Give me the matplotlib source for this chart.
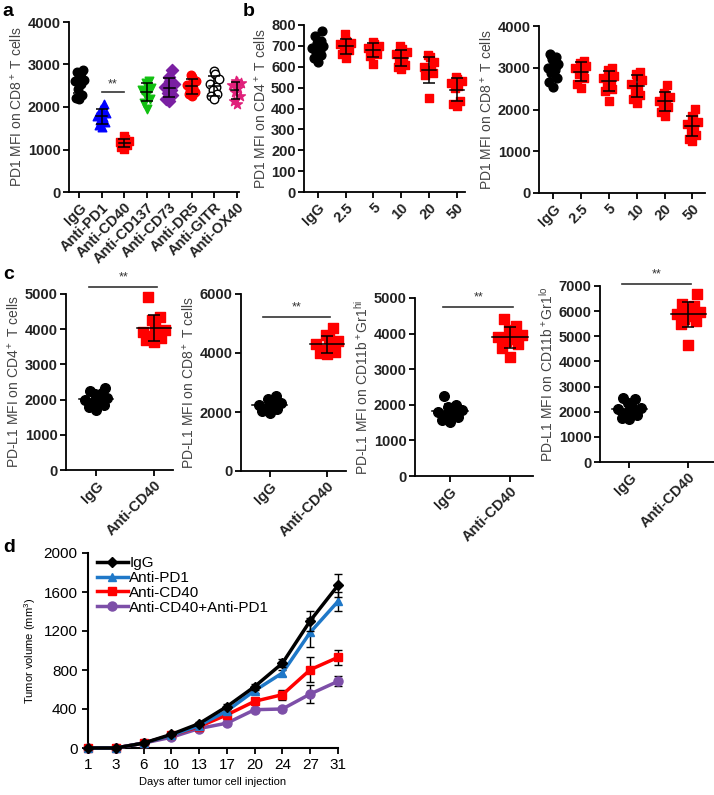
import numpy as np
import matplotlib
matplotlib.use("Agg")
import matplotlib.pyplot as plt
from matplotlib.lines import Line2D

plt.rcParams['font.family'] = ['Liberation Sans', 'DejaVu Sans']
plt.rcParams['mathtext.fontset'] = 'custom'
plt.rcParams['mathtext.rm'] = 'Liberation Sans'
plt.rcParams['mathtext.it'] = 'Liberation Sans'

W, H = 714, 795

# ---- panel a ----
a_groups = ['IgG', 'Anti-PD1', 'Anti-CD40', 'Anti-CD137', 'Anti-CD73', 'Anti-DR5', 'Anti-GITR', 'Anti-OX40']
a_vals = [
    [2860, 2830, 2800, 2750, 2680, 2640, 2600, 2550, 2420, 2280, 2220, 2180],
    [2080, 1960, 1900, 1850, 1800, 1760, 1700, 1650, 1580, 1530],
    [1320, 1250, 1200, 1180, 1150, 1120, 1100, 1060, 1020],
    [2620, 2560, 2500, 2450, 2400, 2350, 2300, 2200, 2100, 1950],
    [2870, 2700, 2620, 2550, 2480, 2400, 2330, 2280, 2200, 2150],
    [2760, 2700, 2620, 2520, 2450, 2400, 2350, 2300, 2270],
    [2850, 2780, 2650, 2550, 2480, 2400, 2300, 2250, 2200],
    [2620, 2580, 2560, 2520, 2450, 2350, 2250, 2150, 2080],
]

# ---- panel b ----
b_groups = ['IgG', '2.5', '5', '10', '20', '50']
b1_vals = [
    [770, 745, 725, 715, 705, 700, 690, 680, 670, 655, 640, 625],
    [758, 725, 715, 710, 700, 690, 680, 660, 640],
    [720, 710, 700, 690, 685, 680, 660, 650, 612],
    [700, 685, 670, 660, 640, 625, 610, 600, 590],
    [655, 645, 625, 600, 585, 575, 570, 560, 450],
    [550, 540, 530, 520, 510, 500, 435, 420, 410],
]
b2_vals = [
    [3320, 3250, 3200, 3130, 3080, 3000, 2950, 2870, 2750, 2650, 2550],
    [3150, 3120, 3100, 3050, 3000, 2920, 2850, 2750, 2600, 2520],
    [3000, 2950, 2880, 2800, 2750, 2700, 2600, 2500, 2450, 2200],
    [2900, 2850, 2800, 2700, 2600, 2550, 2450, 2350, 2250, 2150],
    [2580, 2400, 2350, 2300, 2200, 2150, 2100, 2050, 1950, 1850],
    [2020, 1850, 1800, 1700, 1650, 1600, 1500, 1400, 1300, 1250],
]

# ---- panel c ----
c_groups = ['IgG', 'Anti-CD40']
c1_vals = [[2330, 2250, 2200, 2150, 2100, 2050, 2000, 1950, 1900, 1850, 1780, 1700],
           [4920, 4350, 4250, 4100, 3980, 3920, 3870, 3820, 3760, 3700, 3650]]
c2_vals = [[2550, 2450, 2350, 2300, 2250, 2200, 2150, 2100, 2050, 1980],
           [4850, 4600, 4500, 4400, 4300, 4200, 4100, 4050, 4000, 3950]]
c3_vals = [[2250, 2000, 1950, 1900, 1850, 1800, 1750, 1700, 1650, 1580, 1520],
           [4400, 4200, 4100, 4050, 3950, 3900, 3850, 3800, 3700, 3600, 3350]]
c4_vals = [[2550, 2500, 2350, 2250, 2150, 2100, 2050, 1950, 1850, 1750, 1700],
           [6700, 6300, 6200, 6100, 6000, 5950, 5900, 5800, 5700, 5600, 5500, 4650]]
c_sig = [5200, 5220, 4750, 7080]

# ---- panel d ----
days = ['1', '3', '6', '10', '13', '17', '20', '24', '27', '31']
d_names = ['IgG', 'Anti-PD1', 'Anti-CD40', 'Anti-CD40+Anti-PD1']
d_means = [
    [0, 0, 50, 140, 250, 425, 630, 870, 1305, 1668],
    [0, 0, 50, 130, 230, 380, 588, 770, 1186, 1504],
    [0, 0, 50, 130, 220, 340, 479, 547, 803, 930],
    [0, 0, 50, 110, 200, 255, 393, 400, 554, 684],
]
d_errs = [
    [0, 0, 5, 10, 15, 25, 30, 40, 100, 120],
    [0, 0, 5, 10, 15, 20, 25, 35, 150, 100],
    [0, 0, 5, 10, 15, 20, 25, 50, 130, 80],
    [0, 0, 5, 10, 10, 15, 15, 20, 90, 50],
]


def rect(l, r, t, b):
    return [l / W, 1 - b / H, (r - l) / W, (b - t) / H]


def spread(vals, width=0.26):
    order = np.argsort(vals)
    pattern = [0.0, -0.5, 0.5, -0.25, 0.25, -0.75, 0.75, 0.1, -0.1, 0.4, -0.4, 0.6]
    off = np.zeros(len(vals))
    for k, i in enumerate(order):
        off[i] = pattern[k % len(pattern)] * width
    return off


def style_ax(ax, labels, ymax, ystep, ylabel, xlim):
    ax.spines['top'].set_visible(False)
    ax.spines['right'].set_visible(False)
    for s in ['left', 'bottom']:
        ax.spines[s].set_linewidth(1.3)
    ax.set_ylim(0, ymax)
    ax.set_yticks(np.arange(0, ymax + 1, ystep))
    ax.set_xlim(*xlim)
    ax.set_xticks(range(len(labels)))
    ax.set_xticklabels(labels, rotation=45, ha='right', rotation_mode='anchor')
    ax.tick_params(direction='out', width=1.3, length=4, labelsize=10.5, pad=2)
    for t in ax.get_xticklabels() + ax.get_yticklabels():
        t.set_fontweight('bold')
        t.set_color('#222222')
    ax.set_ylabel(ylabel, fontsize=10, color='#444444', labelpad=2)


def dots(ax, x, vals, marker, color, size=30, face=None, bar=0.25):
    vals = np.array(vals, dtype=float)
    xs = x + spread(vals)
    fc = color if face is None else face
    ax.scatter(xs, vals, marker=marker, s=size, facecolors=fc, edgecolors=color,
               linewidths=1.0, zorder=3, clip_on=False)
    m, sd = vals.mean(), vals.std(ddof=1)
    ax.plot([x - bar, x + bar], [m, m], color='black', lw=1.1, zorder=4)
    ax.errorbar([x], [m], yerr=[sd], color='black', lw=1.1, capsize=4,
                capthick=1.1, zorder=4)


fig = plt.figure(figsize=(W / 100, H / 100), dpi=100)

# panel a
ax = fig.add_axes(rect(69, 239, 22, 192))
a_styles = [('o', 'black', None), ('^', '#0000ff', None), ('s', '#ff0000', None),
            ('v', '#10c010', None), ('D', '#7a1fa2', None), ('o', '#ff0000', None),
            ('o', 'black', 'white'), ('*', '#e0207a', None)]
for i, v in enumerate(a_vals):
    mk, col, fc = a_styles[i]
    dots(ax, i, v, mk, col, size=38 if mk != '*' else 55, face=fc)
style_ax(ax, a_groups, 4000, 1000, 'PD1 MFI on CD8$^+$ T cells', (-0.45, 7.1))
ax.plot([1, 2], [2360, 2360], color='#333333', lw=1.2)
ax.text(1.5, 2400, '**', ha='center', va='bottom', fontsize=9, color='#333333')

# panel b
for vals, box, ymax, ystep, lab, xl in [
        (b1_vals, (304, 465, 25, 192), 800, 100, 'PD1 MFI on CD4$^+$ T cells', (-0.5, 5.3)),
        (b2_vals, (539, 705, 26, 193), 4000, 1000, 'PD1 MFI on CD8$^+$ T cells', (-0.5, 5.45))]:
    ax = fig.add_axes(rect(*box))
    for i, v in enumerate(vals):
        if i == 0:
            dots(ax, i, v, 'o', 'black', size=40)
        else:
            dots(ax, i, v, 's', '#ff0000', size=40)
    style_ax(ax, b_groups, ymax, ystep, lab, xl)

# panel c
c_sets = [
    (c1_vals, (66, 173, 294, 470), 5000, 1000, 'PD-L1 MFI on CD4$^+$ T cells', (-0.52, 1.33)),
    (c2_vals, (241, 346, 294, 471), 6000, 2000, 'PD-L1 MFI on CD8$^+$ T cells', (-0.5, 1.33)),
    (c3_vals, (415, 533, 298, 476), 5000, 1000, 'PD-L1 MFI on CD11b$^+$Gr1$^{\\mathrm{hi}}$', (-0.58, 1.38)),
    (c4_vals, (600, 714, 286, 462), 7000, 1000, 'PD-L1 MFI on CD11b$^+$Gr1$^{\\mathrm{lo}}$', (-0.5, 1.44)),
]
for k, (vals, box, ymax, ystep, lab, xl) in enumerate(c_sets):
    ax = fig.add_axes(rect(*box))
    dots(ax, 0, vals[0], 'o', 'black', size=48, bar=0.3)
    dots(ax, 1, vals[1], 's', '#ff0000', size=42, bar=0.3)
    style_ax(ax, c_groups, ymax, ystep, lab, xl)
    ax.plot([-0.12, 1.05], [c_sig[k], c_sig[k]], color='#333333', lw=1.2, clip_on=False)
    ax.text(0.47, c_sig[k] + ymax * 0.02, '**', ha='center', va='bottom', fontsize=9,
            color='#333333', clip_on=False)

# panel d
ax = fig.add_axes(rect(88, 338, 553, 748))
d_styles = [('black', 'D', 5), ('#1f78c8', '^', 6), ('#ff0000', 's', 6), ('#7d4fa8', 'o', 6.5)]
x = np.arange(len(days))
handles = []
for i in range(4):
    col, mk, ms = d_styles[i]
    ax.errorbar(x, d_means[i], yerr=d_errs[i], color=col, ecolor='black', elinewidth=1,
                capsize=3, capthick=1, lw=2.5, marker=mk, ms=ms,
                clip_on=False, zorder=3 + (3 - i))
    handles.append(Line2D([], [], color=col, lw=2.5, marker=mk, ms=ms, label=d_names[i]))
ax.set_xlim(0, 9)
ax.set_ylim(0, 2000)
ax.set_yticks(np.arange(0, 2001, 400))
ax.set_xticks(x)
ax.set_xticklabels(days)
ax.spines['top'].set_visible(False)
ax.spines['right'].set_visible(False)
for s in ['left', 'bottom']:
    ax.spines[s].set_linewidth(1.5)
ax.tick_params(direction='out', width=1.3, length=4, labelsize=11)
ax.set_ylabel('Tumor volume (mm$^3$)', fontsize=8, labelpad=4)
ax.set_xlabel('Days after tumor cell injection', fontsize=8, labelpad=3)
ax.legend(handles=handles, loc='upper left', bbox_to_anchor=(0.0, 1.03), frameon=False,
          fontsize=11, handlelength=2.0, handletextpad=0.1, labelspacing=0.05,
          borderaxespad=0.2)

# panel letters
for lab, px, py in [('a', 2, 16), ('b', 243, 16), ('c', 3, 279), ('d', 3, 552)]:
    fig.text(px / W, 1 - py / H, lab, fontsize=14, fontweight='bold', va='baseline')

fig.savefig('out.png', dpi=100)
